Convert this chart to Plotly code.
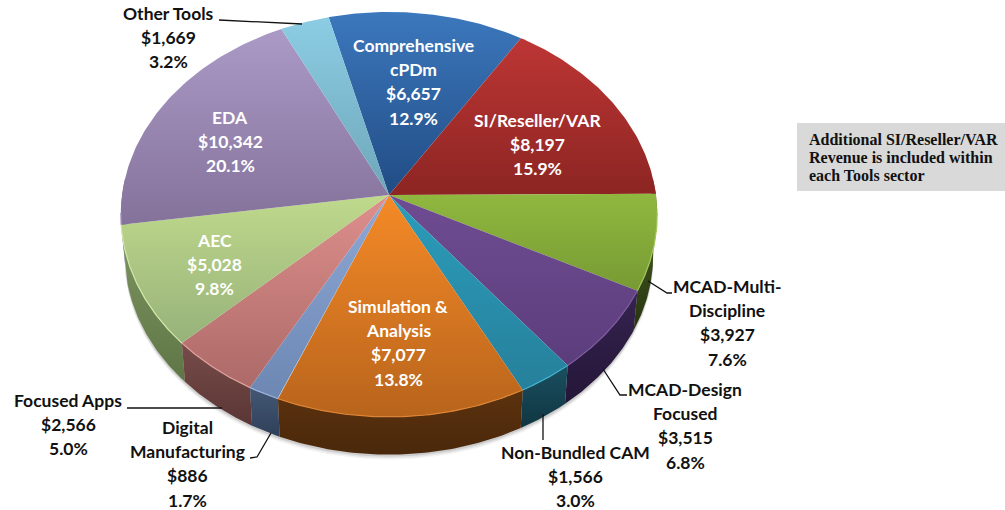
import numpy as np
import plotly.graph_objects as go

# ---- data (clockwise from the top of the pie) ----
categories = ["Comprehensive cPDm", "SI/Reseller/VAR", "MCAD-Multi-Discipline",
              "MCAD-Design Focused", "Non-Bundled CAM", "Simulation & Analysis",
              "Digital Manufacturing", "Focused Apps", "AEC", "EDA", "Other Tools"]
values = [6657, 8197, 3927, 3515, 1566, 7077, 886, 2566, 5028, 10342, 1669]
percents = ["12.9%", "15.9%", "7.6%", "6.8%", "3.0%", "13.8%", "1.7%", "5.0%", "9.8%", "20.1%", "3.2%"]

# ---- styles ----
top_colors = [("#3c78bd", "#214c84"), ("#bd3634", "#8c2523"), ("#90b83f", "#779a33"),
              ("#6f4c92", "#5c3d7c"), ("#2b9dbb", "#26809b"), ("#f58a27", "#b8641c"),
              ("#8fa9d8", "#6c87b2"), ("#de8f8c", "#ac6a68"), ("#bfd98c", "#97b27a"),
              ("#ab9ac6", "#84729b"), ("#8ccde4", "#6ea6b9")]
wall_colors = [("#224b80", "#224b80"), ("#7a201e", "#7a201e"), ("#4b6426", "#27340f"),
               ("#35234f", "#241638"), ("#1a4f60", "#103642"), ("#5c320e", "#4a280b"),
               ("#435774", "#2f405a"), ("#774c4a", "#5a3634"), ("#7f9763", "#5e7545"),
               ("#84729b", "#84729b"), ("#6ea6b9", "#6ea6b9")]
rim_colors = ["#3c78bd", "#bd3634", "#a4c75a", "#7d5aa0", "#3fb0cc", "#de8434",
              "#9ab2dc", "#e0a09d", "#d2e8a8", "#ab9ac6", "#8ccde4"]
label_lines = [["Comprehensive", "cPDm"], ["SI/Reseller/VAR"], ["MCAD-Multi-", "Discipline"],
               ["MCAD-Design", "Focused"], ["Non-Bundled CAM"], ["Simulation &", "Analysis"],
               ["Digital", "Manufacturing"], ["Focused Apps"], ["AEC"], ["EDA"], ["Other Tools"]]
label_pos = [(413, 45), (537, 120), (727, 286), (685, 389), (575, 452), (398, 306),
             (187, 427), (68, 400), (214, 240), (230, 117), (168, 13)]
label_white = [True, True, False, False, False, True, False, False, True, True, False]

CX, CY, A, B, E = 389.0, 195.0, 267.0, 200.6, 0.096   # projected disc
START = -14.3   # degrees
DEPTH, SHRINK = 41.0, 0.985


def rim(theta_deg, scale=1.0, dy=0.0):
    t = np.radians(theta_deg)
    s, c = np.sin(t), np.cos(t)
    w = 1 + E * c
    return CX + scale * A * s / w, CY + dy - scale * B * c / w


shares = np.array(values) / sum(values) * 360
edges = START + np.concatenate([[0], np.cumsum(shares)])

fig = go.Figure()

# soft shadow under the front rim
for off, alpha in [(5, 0.05), (3.5, 0.08), (2, 0.12)]:
    th = np.linspace(95, 265, 120)
    x1, y1 = rim(th)
    x2, y2 = rim(th[::-1], SHRINK, DEPTH + off)
    fig.add_trace(go.Scatter(x=np.r_[x1, x2], y=np.r_[y1, y2], mode="lines", line_width=0, fill="toself",
                             fillcolor=f"rgba(40,40,40,{alpha})", hoverinfo="skip", showlegend=False))

# side walls, back to front
order = sorted(range(len(values)), key=lambda i: -abs((edges[i] + edges[i + 1]) / 2 - 180))
for i in order:
    lo, hi = max(edges[i], 85), min(edges[i + 1], 275)
    if hi <= lo:
        continue
    th = np.linspace(lo, hi, 60)
    x1, y1 = rim(th)
    x2, y2 = rim(th[::-1], SHRINK, DEPTH)
    x, y = np.r_[x1, x2], np.r_[y1, y2]
    fig.add_trace(go.Scatter(
        x=x, y=y, mode="lines", line_width=0, fill="toself", name=categories[i] + " side",
        fillgradient=dict(type="vertical", start=float(y.min()), stop=float(y.max()),
                          colorscale=[[0, wall_colors[i][0]], [1, wall_colors[i][1]]]),
        hoverinfo="skip", showlegend=False))

# top surface
for i, cat in enumerate(categories):
    th = np.linspace(edges[i], edges[i + 1], 80)
    x, y = rim(th)
    x, y = np.r_[CX, x, CX], np.r_[CY, y, CY]
    hi_c, lo_c = top_colors[i]
    # y axis is reversed: smaller y is the higher point of the slice
    fig.add_trace(go.Scatter(
        x=x, y=y, mode="lines", line_width=0, fill="toself", name=cat,
        fillgradient=dict(type="vertical", start=float(y.min()), stop=float(y.max()),
                          colorscale=[[0, hi_c], [1, lo_c]]),
        text=f"{cat}<br>${values[i]:,}<br>{percents[i]}", hoverinfo="text", showlegend=False))

# thin bevel highlight along the front rim
for i in range(len(values)):
    lo, hi = max(edges[i], 95), min(edges[i + 1], 265)
    if hi <= lo:
        continue
    xr, yr = rim(np.linspace(lo, hi, 60))
    fig.add_trace(go.Scatter(x=xr, y=yr, mode="lines", line=dict(color=rim_colors[i], width=1.2),
                             hoverinfo="skip", showlegend=False))

LINE = 24.4
ann = []
for i, lines in enumerate(label_lines):
    x0, y0 = label_pos[i]
    rows = lines + [f"${values[i]:,}", percents[i]]
    for k, row in enumerate(rows):
        ann.append(dict(x=x0, y=y0 + k * LINE, text=f"<b>{row}</b>", showarrow=False, xanchor="center",
                        yanchor="middle",
                        font=dict(family="Lato", size=17.5, color="white" if label_white[i] else "#111111")))

note_lines = ["Additional SI/Reseller/VAR", "Revenue is included within", "each Tools sector"]
for k, row in enumerate(note_lines):
    ann.append(dict(x=807, y=139 + k * 18, text=f"<b>{row}</b>", showarrow=False, xanchor="left", yanchor="middle",
                    font=dict(family="Liberation Serif", size=16, color="#111111")))

leaders = [[(219, 20), (302, 24)], [(648, 281), (667, 293), (672, 293)],
           [(603, 369), (620, 395), (627, 395)], [(543, 414), (543, 440)],
           [(127, 408), (222, 408)], [(250, 458), (257, 457), (271, 433)]]
shapes = [dict(type="rect", x0=797, x1=1005, y0=123, y1=191, fillcolor="#d9d9d9", line_width=0, layer="below")]
for pts in leaders:
    path = "M " + " L ".join(f"{x},{y}" for x, y in pts)
    shapes.append(dict(type="path", path=path, line=dict(color="#111111", width=1.3)))

fig.update_layout(
    width=1005, height=510, margin=dict(l=0, r=0, t=0, b=0),
    paper_bgcolor="white", plot_bgcolor="white", showlegend=False,
    xaxis=dict(range=[0, 1005], visible=False, fixedrange=True),
    yaxis=dict(range=[510, 0], visible=False, fixedrange=True),
    annotations=ann, shapes=shapes)

fig.write_html("out.html", config={"displayModeBar": False},
               post_script="document.body.style.margin='0';document.body.style.overflow='hidden';")
